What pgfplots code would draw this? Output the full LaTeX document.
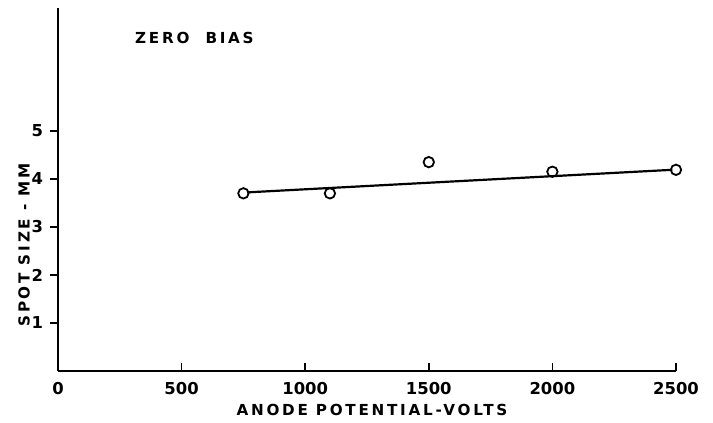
\documentclass[border=0pt]{standalone}
\usepackage{pgfplots}
\pgfplotsset{compat=1.18}
\usepackage{fontspec}
\setmainfont{DejaVu Sans}
\newfontfamily\spaced[LetterSpace=18]{DejaVu Sans}
\begin{document}
\begin{tikzpicture}
\begin{axis}[
  scale only axis,
  width=309pt, height=181.5pt,
  xmin=0, xmax=2500, ymin=0, ymax=7.56,
  axis x line=bottom, axis y line=left,
  axis line style={-, line width=1pt},
  xtick={0,500,1000,1500,2000,2500},
  ytick={1,2,3,4,5},
  xtick align=inside, ytick align=outside,
  major tick length=4pt,
  tick style={line width=0.8pt, black},
  /pgf/number format/assume math mode=true,
  /pgf/number format/1000 sep={},
  tick label style={font=\fontsize{8.2}{9}\selectfont\bfseries},
  xticklabel style={yshift=-2pt},
  clip=false,
]
\addplot[line width=1.1pt, black] coordinates {(765,3.72) (2485,4.19)};
\addplot[only marks, mark=o, mark size=2.6pt, mark options={line width=0.9pt, fill=white}] coordinates {
  (750,3.70) (1100,3.70) (1500,4.35) (2000,4.15) (2500,4.19)
};
\node[font=\fontsize{7.6}{8}\selectfont\spaced\bfseries] at (axis cs:552,6.94) {ZERO\ \ BIAS};
\node[font=\fontsize{7.6}{8}\selectfont\spaced\bfseries, rotate=90] at ([xshift=-17pt]rel axis cs:0,0.347) {SPOT SIZE - MM};
\node[font=\fontsize{7.6}{8}\selectfont\spaced\bfseries] at ([yshift=-19.5pt]axis cs:1270,0) {ANODE POTENTIAL-VOLTS};
\end{axis}
\path (-29pt,-26pt) rectangle (327.5pt,185.5pt);
\end{tikzpicture}
\end{document}
